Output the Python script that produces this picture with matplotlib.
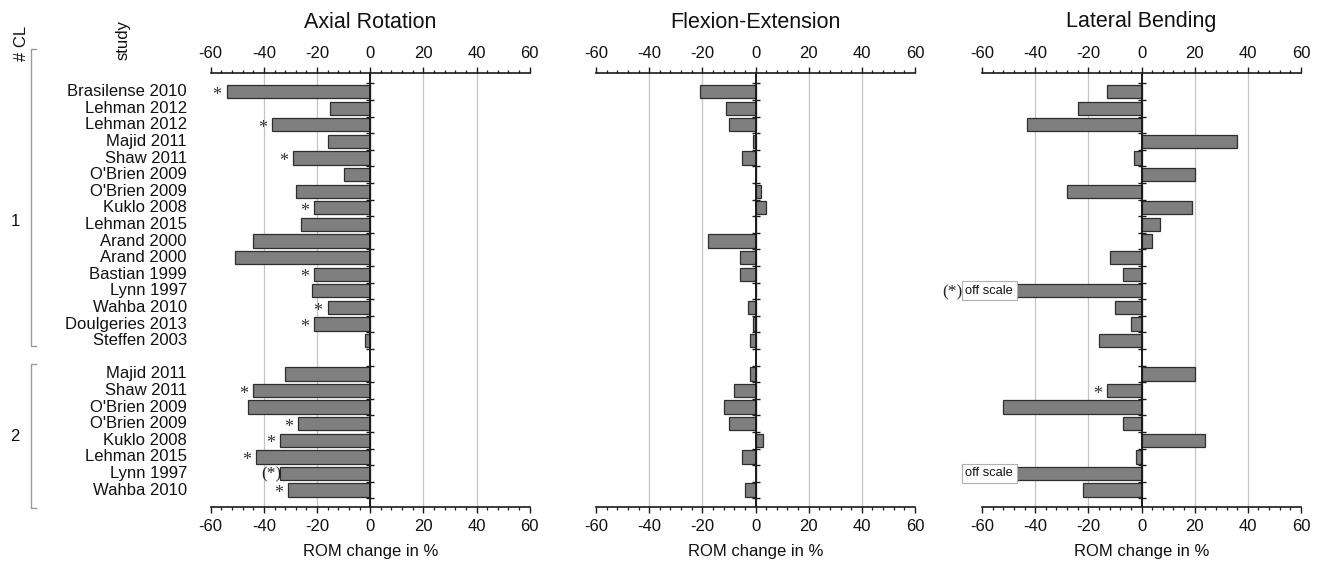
import numpy as np
import matplotlib
matplotlib.use("Agg")
import matplotlib.pyplot as plt
from matplotlib.transforms import blended_transform_factory

plt.rcParams['font.family'] = ['Liberation Sans', 'DejaVu Sans']
plt.rcParams['axes.unicode_minus'] = False

# ---------------- data ----------------
studies = ["Brasilense 2010", "Lehman 2012", "Lehman 2012", "Majid 2011", "Shaw 2011",
           "O'Brien 2009", "O'Brien 2009", "Kuklo 2008", "Lehman 2015", "Arand 2000",
           "Arand 2000", "Bastian 1999", "Lynn 1997", "Wahba 2010", "Doulgeries 2013",
           "Steffen 2003",
           "Majid 2011", "Shaw 2011", "O'Brien 2009", "O'Brien 2009", "Kuklo 2008",
           "Lehman 2015", "Lynn 1997", "Wahba 2010"]
cl_group = [1] * 16 + [2] * 8

axial = [-54, -15, -37, -16, -29, -10, -28, -21, -26, -44, -51, -21, -22, -16, -21, -2,
         -32, -44, -46, -27, -34, -43, -34, -31]
flexion = [-21, -11, -10, -1, -5, 0, 2, 4, 0, -18, -6, -6, 0, -3, -1, -2,
           -2, -8, -12, -10, 3, -5, 0, -4]
# None = off scale
lateral = [-13, -24, -43, 36, -3, 20, -28, 19, 7, 4, -12, -7, None, -10, -4, -16,
           20, -13, -52, -7, 24, -2, None, -22]

axial_sig = ["*", "", "*", "", "*", "", "", "*", "", "", "", "*", "", "*", "*", "",
             "", "*", "", "*", "*", "*", "(*)", "*"]
flexion_sig = [""] * 24
lateral_sig = ["", "", "", "", "", "", "", "", "", "", "", "", "(*)", "", "", "",
               "", "*", "", "", "", "", "", ""]

titles = ["Axial Rotation", "Flexion-Extension", "Lateral Bending"]
xticks = [-60, -40, -20, 0, 20, 40, 60]
xlabel = "ROM change in %"

# ---------------- layout ----------------
W, H = 1321, 563
fig = plt.figure(figsize=(W / 100, H / 100), dpi=100)

# rows: group 2 after one empty slot
rows = []
for i, g in enumerate(cl_group):
    rows.append(i + (g - 1))
rows = np.array(rows, dtype=float)
n_slots = int(rows.max()) + 1

ax_bottom = (H - 506.7) / H
ax_height = (506.7 - 73) / H
lefts = [210.7, 596, 982]
width = 319 / W

bar_fc = '#7f7f7f'
bar_ec = '#2e2e2e'
grid_c = '#c4c4c4'
spine_c = '#1a1a1a'

series = [axial, flexion, lateral]
sigs = [axial_sig, flexion_sig, lateral_sig]
axes = []
for k in range(3):
    ax = fig.add_axes([lefts[k] / W, ax_bottom, width, ax_height])
    axes.append(ax)
    vals = series[k]
    plot_vals = np.array([v if v is not None else xticks[0] - 10 for v in vals], dtype=float)
    ax.barh(rows, plot_vals, height=0.8, color=bar_fc, edgecolor=bar_ec, linewidth=0.9,
            zorder=3)
    ax.set_xlim(xticks[0], xticks[-1])
    ax.set_ylim(n_slots + 0.0, -1.12)

    # x axis top & bottom
    ax.set_xticks(xticks)
    ax.set_xticks(np.arange(xticks[0], xticks[-1] + 1, 4), minor=True)
    ax.tick_params(axis='x', which='both', top=True, bottom=True, labeltop=True,
                   labelbottom=True, direction='out', labelsize=12, pad=5,
                   color=spine_c, labelcolor='#111111')
    ax.tick_params(axis='x', which='major', length=4, width=1.0)
    ax.tick_params(axis='x', which='minor', length=2.2, width=0.9)
    ax.set_yticks([])
    for s in ['left', 'right']:
        ax.spines[s].set_visible(False)
    for s in ['top', 'bottom']:
        ax.spines[s].set_color(spine_c)
        ax.spines[s].set_linewidth(1.2)

    # grid lines (not at the frame ends)
    ax.grid(axis='x', color=grid_c, linewidth=0.9, zorder=0)
    gl = ax.get_xgridlines()
    gl[0].set_visible(False)
    gl[-1].set_visible(False)

    # zero line with boundary ticks
    ax.axvline(0, color=spine_c, linewidth=1.4, zorder=4)
    bounds = np.arange(-0.5, n_slots, 1.0)
    ax.plot(np.zeros_like(bounds), bounds, ls='none', marker='_', ms=6, mew=1.0,
            color=spine_c, zorder=5, clip_on=False)

    ax.set_xlabel(xlabel, fontsize=12, labelpad=7, color='#111111')
    fig.text((lefts[k] + 159.5) / W, 1 - 22 / H, titles[k], ha='center', va='center',
             fontsize=15.5, color='#111111')

    # significance markers / off-scale boxes
    for r, v, s in zip(rows, vals, sigs[k]):
        if v is None:
            ax.text(-57.3, r, "off scale", ha='center', va='center', fontsize=9.3,
                    color='#111111', zorder=6, clip_on=False,
                    bbox=dict(boxstyle='square,pad=0.28', fc='white', ec='#b0b0b0',
                              lw=0.8))
            if s:
                ax.text(-67.5, r + 0.08, s, ha='right', va='center', fontsize=12.5,
                        family='Liberation Serif', color='#222222', clip_on=False)
            continue
        if s == "*":
            ax.text(v - 3.6, r + 0.22, s, ha='center', va='center', fontsize=13,
                    family='Liberation Serif', color='#333333', zorder=6)
        elif s == "(*)":
            ax.text(v + 0.6, r + 0.08, s, ha='right', va='center', fontsize=12.5,
                    family='Liberation Serif', color='#222222', zorder=6)

# study labels, groups, brackets
ax0 = axes[0]
tr = blended_transform_factory(fig.transFigure, ax0.transData)
for r, name in zip(rows, studies):
    ax0.text(187 / W, r, name, transform=tr, ha='right', va='center', fontsize=12,
             color='#111111', clip_on=False)

bracket_c = '#9a9a9a'
for g, (pad_top, pad_bot) in zip([1, 2], [(2.57, 0.35), (0.6, 1.05)]):
    gr = rows[np.array(cl_group) == g]
    y0, y1 = gr.min() - pad_top, gr.max() + pad_bot
    ax0.plot([35.5 / W, 30.7 / W, 30.7 / W, 35.5 / W], [y0, y0, y1, y1], transform=tr,
             color=bracket_c, lw=1.0, clip_on=False)
    ax0.text(15 / W, gr.mean() + 0.3, str(g), transform=tr, ha='center', va='center',
             fontsize=12, color='#111111', clip_on=False)

fig.text(21.7 / W, 1 - 43 / H, "# CL", rotation=90, ha='center', va='center',
         fontsize=12, color='#111111')
fig.text(123 / W, 1 - 40 / H, "study", rotation=90, ha='center', va='center',
         fontsize=12, color='#111111')

fig.savefig("out.png", dpi=100)
